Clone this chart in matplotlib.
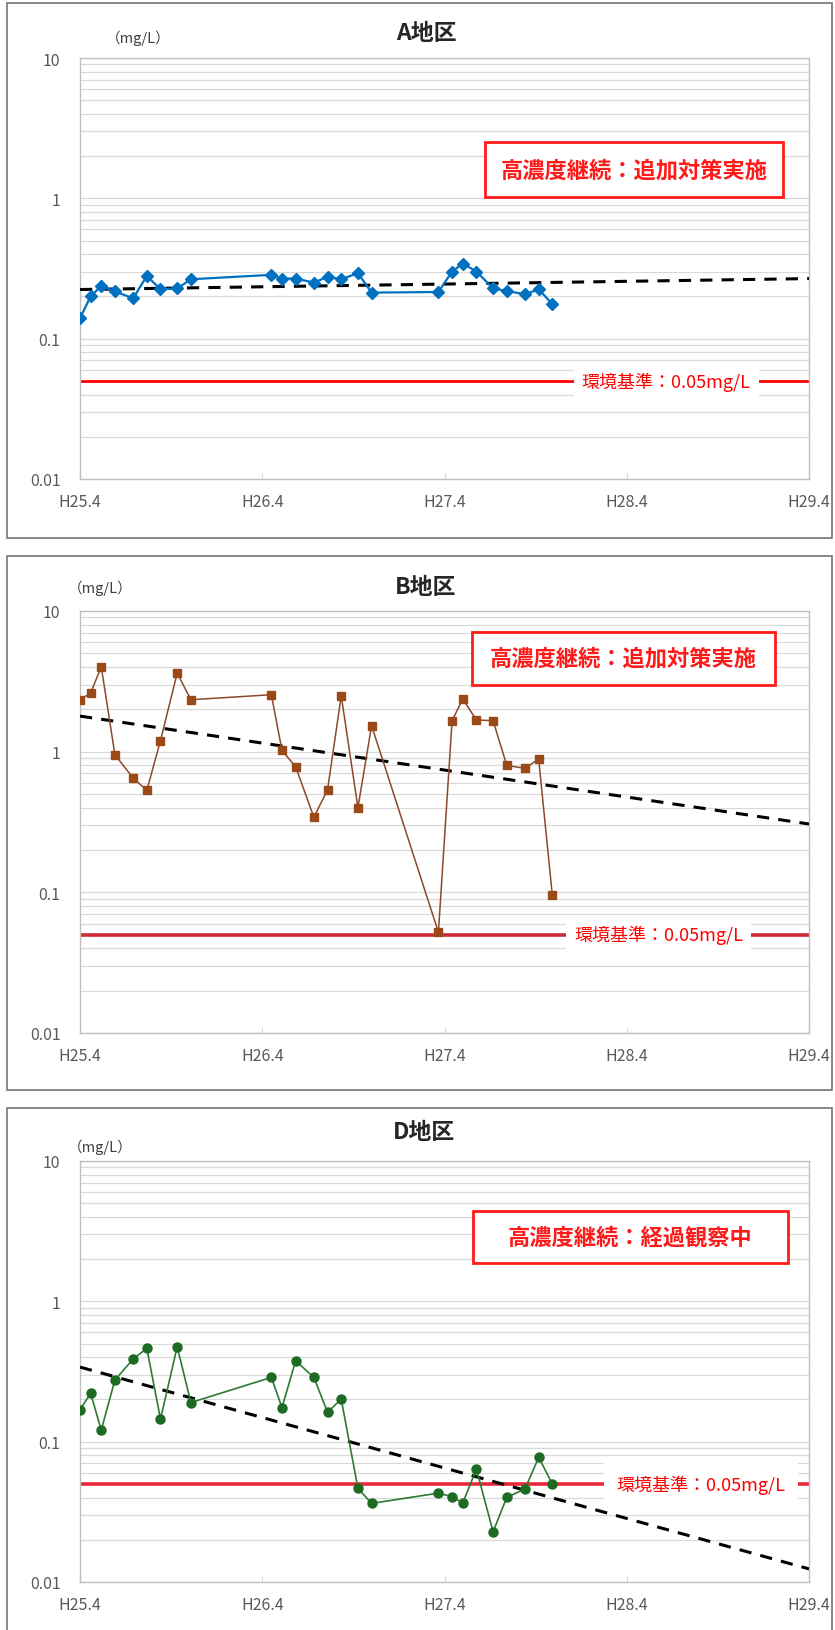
import numpy as np
import matplotlib.pyplot as plt
from matplotlib.patches import Rectangle
from matplotlib.ticker import LogLocator, NullFormatter, FixedLocator

plt.rcParams['font.family'] = ['Noto Sans CJK JP', 'DejaVu Sans']

# sampling dates, in months since H25.4
months = [0.0, 0.7, 1.4, 2.3, 3.5, 4.4, 5.3, 6.4, 7.3,
          12.6, 13.3, 14.2, 15.4, 16.3, 17.2, 18.3, 19.2,
          23.6, 24.5, 25.2, 26.1, 27.2, 28.1, 29.3, 30.2, 31.1]

conc_a = [0.14, 0.20, 0.238, 0.217, 0.194, 0.28, 0.225, 0.228, 0.265,
          0.285, 0.268, 0.268, 0.251, 0.276, 0.265, 0.293, 0.213,
          0.215, 0.301, 0.343, 0.301, 0.228, 0.219, 0.207, 0.225, 0.176]
conc_b = [2.34, 2.61, 4.02, 0.95, 0.65, 0.53, 1.2, 3.62, 2.34,
          2.54, 1.02, 0.78, 0.342, 0.535, 2.5, 0.40, 1.53,
          0.052, 1.66, 2.37, 1.68, 1.66, 0.80, 0.76, 0.887, 0.095]
conc_d = [0.169, 0.221, 0.121, 0.275, 0.388, 0.462, 0.145, 0.475, 0.19,
          0.287, 0.175, 0.377, 0.287, 0.162, 0.201, 0.0465, 0.0363,
          0.043, 0.0405, 0.0365, 0.0638, 0.0228, 0.0401, 0.046, 0.0773, 0.05]

# trend lines (start / end of the x range)
trend_x = [0, 48]
trend_a = [0.224, 0.268]
trend_b = [1.79, 0.306]
trend_d = [0.34, 0.0124]

std_value = 0.05
std_label = '環境基準：0.05mg/L'
titles = ['A地区', 'B地区', 'D地区']
status = ['高濃度継続：追加対策実施', '高濃度継続：追加対策実施', '高濃度継続：経過観察中']

tick_months = [0, 12, 24, 36, 48]
tick_labels = ['H25.4', 'H26.4', 'H27.4', 'H28.4', 'H29.4']
y_ticks = [0.01, 0.1, 1, 10]
y_tick_labels = ['0.01', '0.1', '1', '10']

W, H = 835, 1631
fig = plt.figure(figsize=(W / 100, H / 100), dpi=100)


def frac(x0, y0, x1, y1):
    return [x0 / W, 1 - y1 / H, (x1 - x0) / W, (y1 - y0) / H]


panels = [
    dict(data=conc_a, trend=trend_a, color='#0070C0', lcolor='#0070C0', marker='D', ms=6.5, lw=1.6,
         frame=(7, 4, 832, 539), plot=(80, 59, 809, 480), title_xy=(426, 33), unit_xy=(106, 38),
         box=(0.556, 0.67, 0.964, 0.80), std_color='#FF0000', std_lw=2.0, std_x=38.6, std_pad=0.45),
    dict(data=conc_b, trend=trend_b, color='#9A4A16', lcolor='#8B4A2B', marker='s', ms=6, lw=1.1,
         frame=(7, 557, 832, 1091), plot=(80, 612, 809, 1034), title_xy=(426, 588), unit_xy=(68, 588),
         box=(0.538, 0.825, 0.953, 0.950), std_color='#CF2A36', std_lw=2.6, std_x=38.1, std_pad=0.45),
    dict(data=conc_d, trend=trend_d, color='#1D6B22', lcolor='#2F7A32', marker='o', ms=6.5, lw=1.2,
         frame=(7, 1109, 832, 1645), plot=(80, 1162, 809, 1583), title_xy=(424, 1133), unit_xy=(68, 1147),
         box=(0.539, 0.757, 0.971, 0.882), std_color='#E8283A', std_lw=2.6, std_x=40.9, std_pad=0.7),
]

for i, p in enumerate(panels):
    fx0, fy0, fx1, fy1 = p['frame']
    fig.patches.append(Rectangle((fx0 / W, 1 - fy1 / H), (fx1 - fx0) / W, (fy1 - fy0) / H,
                                 transform=fig.transFigure, fill=False,
                                 edgecolor='#7F7F7F', lw=1.3))
    fig.text(p['title_xy'][0] / W, 1 - p['title_xy'][1] / H, titles[i],
             ha='center', va='center', fontsize=16.5, fontweight='bold', color='#262626')
    fig.text(p['unit_xy'][0] / W, 1 - p['unit_xy'][1] / H, '（mg/L）',
             ha='left', va='center', fontsize=10.5, color='#404040')

    ax = fig.add_axes(frac(*p['plot']))
    ax.set_yscale('log')
    ax.set_xlim(0, 48)
    ax.set_ylim(0.01, 10)
    ax.yaxis.set_major_locator(FixedLocator(y_ticks))
    ax.set_yticklabels(y_tick_labels)
    ax.yaxis.set_minor_locator(LogLocator(base=10, subs=range(2, 10)))
    ax.yaxis.set_minor_formatter(NullFormatter())
    ax.set_xticks(tick_months)
    ax.set_xticklabels(tick_labels)
    ax.tick_params(axis='y', which='both', length=0, pad=14, labelsize=11.5, labelcolor='#595959')
    ax.tick_params(axis='x', length=4, direction='in', color='#D9D9D9', pad=10,
                   labelsize=11.5, labelcolor='#595959')
    ax.grid(True, axis='y', which='both', color='#D9D9D9', lw=0.9)
    ax.set_axisbelow(True)
    for s in ax.spines.values():
        s.set_color('#BFBFBF')
        s.set_linewidth(1.0)

    ax.axhline(std_value, color=p['std_color'], lw=p['std_lw'], zorder=2)
    ax.text(p['std_x'], std_value, std_label, ha='center', va='center', fontsize=13,
            color='#FF0000', zorder=6,
            bbox=dict(boxstyle='square,pad=%s' % p['std_pad'], fc='white', ec='none'))

    ax.plot(trend_x, p['trend'], color='black', lw=2.2, dashes=(4, 3), zorder=3)
    ax.plot(months, p['data'], color=p['lcolor'], lw=p['lw'], zorder=4,
            marker=p['marker'], ms=p['ms'], mfc=p['color'], mec=p['color'])

    bx0, by0, bx1, by1 = p['box']
    ax.add_patch(Rectangle((bx0, by0), bx1 - bx0, by1 - by0, transform=ax.transAxes,
                           fc='white', ec='#FF1A1A', lw=2.0, zorder=7))
    ax.text((bx0 + bx1) / 2, (by0 + by1) / 2, status[i], transform=ax.transAxes,
            ha='center', va='center', fontsize=16, fontweight='bold', color='#FF1A1A', zorder=8)

fig.savefig('out.png', dpi=100)
